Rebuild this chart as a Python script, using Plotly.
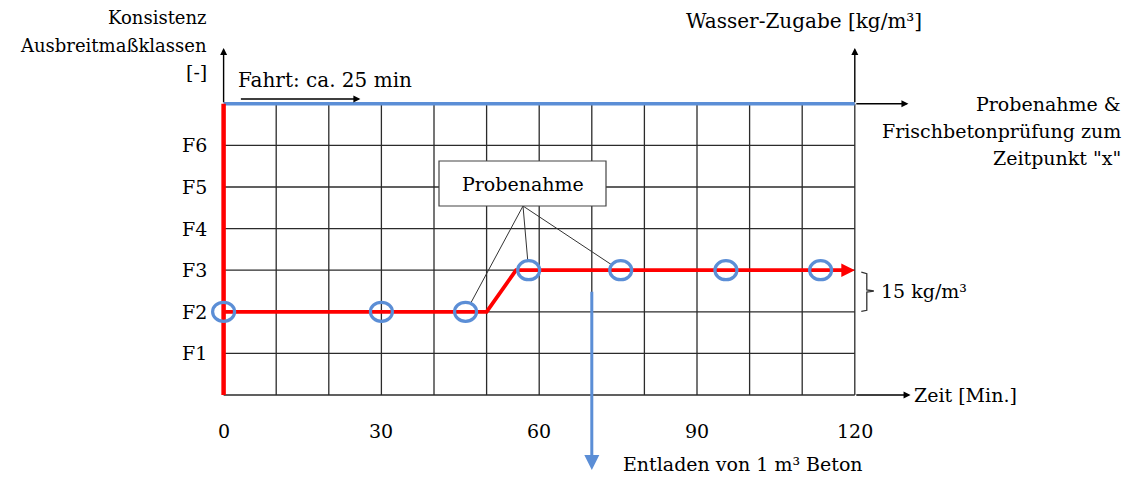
import plotly.graph_objects as go

# ---------------- data ----------------
classes = ["F1", "F2", "F3", "F4", "F5", "F6"]
class_levels = [1, 2, 3, 4, 5, 6]
x_ticks = [0, 30, 60, 90, 120]
grid_minutes = [10, 20, 30, 40, 50, 60, 70, 80, 90, 100, 110, 120]

# consistency course (minutes, class level)
curve_t = [0, 50, 55.6, 120]
curve_f = [2, 2, 3, 3]

# sampling points
sample_t = [0, 30, 46, 58, 75.5, 95.5, 113.5]
sample_f = [2, 2, 2, 3, 3, 3, 3]
labelled_samples = [2, 3, 4]

unload_t = 70          # unloading of 1 m3
unload_f = 2.52
ride_start, ride_end = 3, 26   # "Fahrt: ca. 25 min"
top_level = 7

# ---------------- geometry (pixel mapping) ----------------
W, H = 1131, 477
X0, PXM = 223.6, 5.26     # pixel of t=0, px per minute
Y0, PYU = 395.0, 41.6     # pixel of level 0, px per class
xr = [-X0 / PXM, (W - X0) / PXM]
yr = [-(H - Y0) / PYU, Y0 / PYU]

def dx(px):
    return px / PXM

def dy(px):
    return px / PYU

BLUE = "#5B8ED6"
RED = "#FF0000"
GRID = "#2b2b2b"
FONT = "DejaVu Serif"
FS = 19

fig = go.Figure()

# grid
gx, gy = [], []
for m in grid_minutes:
    gx += [m, m, None]
    gy += [0, top_level, None]
for lv in class_levels:
    gx += [0, 120, None]
    gy += [lv, lv, None]
fig.add_trace(go.Scatter(x=gx, y=gy, mode="lines", line=dict(color=GRID, width=1.3),
                         hoverinfo="skip", showlegend=False))

# axes with arrows
def arrow(x0, y0, x1, y1, color="black", width=1.4, head=2, size=1.0):
    fig.add_annotation(x=x1, y=y1, ax=x0, ay=y0, xref="x", yref="y", axref="x", ayref="y",
                       text="", showarrow=True, arrowhead=head, arrowsize=size,
                       arrowwidth=width, arrowcolor=color, standoff=0, startstandoff=0)

ymax_arrow = dy(Y0 - 48)
arrow(0, top_level, 0, ymax_arrow)
arrow(120, top_level, 120, ymax_arrow)
arrow(120, top_level, 130.2, top_level)
fig.add_trace(go.Scatter(x=[0, 120], y=[0, 0], mode="lines", line=dict(color=GRID, width=1.4),
                         hoverinfo="skip", showlegend=False))
arrow(120, 0, 130.6, 0)

# top blue line
fig.add_trace(go.Scatter(x=[0, 120], y=[top_level, top_level], mode="lines",
                         line=dict(color=BLUE, width=3.5), hoverinfo="skip", showlegend=False))

# red vertical at t=0
fig.add_trace(go.Scatter(x=[0, 0], y=[0, top_level], mode="lines",
                         line=dict(color=RED, width=4.5), hoverinfo="skip", showlegend=False))

# red consistency curve
fig.add_trace(go.Scatter(x=curve_t[:-1] + [curve_t[-1] - dx(8)], y=curve_f, mode="lines",
                         line=dict(color=RED, width=3.8), hoverinfo="skip", showlegend=False))
arrow(curve_t[-1] - dx(10), curve_f[-1], curve_t[-1], curve_f[-1], color=RED, width=3, head=2, size=0.9)

# leader lines from box to samples
box_x0, box_x1 = dx(439 - X0), dx(606 - X0)
box_y0, box_y1 = dy(Y0 - 206), dy(Y0 - 161)
anchor_t, anchor_f = dx(523 - X0), box_y0
lx, ly = [], []
for i in labelled_samples:
    t, f = sample_t[i], sample_f[i]
    vx, vy = (anchor_t - t) * PXM, (anchor_f - f) * PYU
    norm = (vx ** 2 + vy ** 2) ** 0.5
    ex = t + dx(11 * vx / norm)
    ey = f + dy(10 * vy / norm)
    lx += [anchor_t, ex, None]
    ly += [anchor_f, ey, None]
fig.add_trace(go.Scatter(x=lx, y=ly, mode="lines", line=dict(color="#333333", width=1),
                         hoverinfo="skip", showlegend=False))

# sample ellipses
for t, f in zip(sample_t, sample_f):
    fig.add_shape(type="circle", xref="x", yref="y",
                  x0=t - dx(11), x1=t + dx(11), y0=f - dy(9.5), y1=f + dy(9.5),
                  line=dict(color=BLUE, width=3.2), layer="above")

# Probenahme box
fig.add_shape(type="rect", xref="x", yref="y", x0=box_x0, x1=box_x1, y0=box_y0, y1=box_y1,
              line=dict(color="#444444", width=1.2), fillcolor="white", layer="above")
fig.add_annotation(x=(box_x0 + box_x1) / 2, y=(box_y0 + box_y1) / 2, xref="x", yref="y",
                   text="Probenahme", showarrow=False, font=dict(family=FONT, size=FS, color="black"))

# unloading arrow
arrow(unload_t, unload_f, unload_t, dy(Y0 - 470), color=BLUE, width=3, head=2, size=1.0)

# ride arrow
ride_y = dy(Y0 - 99)
arrow(ride_start, ride_y, ride_end, ride_y, color="black", width=1.4, head=2, size=1.0)

# bracket 15 kg/m3
bx = [120 + dx(6.5), 120 + dx(12), 120 + dx(12), 120 + dx(19), 120 + dx(12), 120 + dx(12), 120 + dx(6.5)]
by = [3 - dy(2), 3 - dy(3.5), 2.5 + dy(1), 2.5, 2.5 - dy(1), 2 + dy(1.5), 2 + dy(0.5)]
fig.add_trace(go.Scatter(x=bx, y=by, mode="lines", line=dict(color="#333333", width=1.3),
                         hoverinfo="skip", showlegend=False))

# texts
def txt(x, y, s, xanchor="left", yanchor="middle", size=FS):
    fig.add_annotation(x=x, y=y, xref="x", yref="y", text=s, showarrow=False,
                       xanchor=xanchor, yanchor=yanchor,
                       font=dict(family=FONT, size=size, color="black"))

for c, lv in zip(classes, class_levels):
    txt(dx(209 - X0), lv, c, xanchor="right")
for t in x_ticks:
    txt(t, dy(Y0 - 431), str(t), xanchor="center")

txt(dx(209 - X0), dy(Y0 - 17), "Konsistenz", xanchor="right", size=18)
txt(dx(209 - X0), dy(Y0 - 45), "Ausbreitmaßklassen", xanchor="right", size=18)
txt(dx(209 - X0), dy(Y0 - 72), "[-]", xanchor="right")
txt(dx(236 - X0), dy(Y0 - 80), "Fahrt: ca. 25 min", size=20)
txt(dx(804 - X0), dy(Y0 - 21), "Wasser-Zugabe [kg/m³]", xanchor="center", size=20)
txt(dx(1123 - X0), dy(Y0 - 104), "Probenahme &", xanchor="right")
txt(dx(1123 - X0), dy(Y0 - 131), "Frischbetonprüfung zum", xanchor="right")
txt(dx(1123 - X0), dy(Y0 - 158), "Zeitpunkt \"x\"", xanchor="right")
txt(dx(912 - X0), 0, "Zeit [Min.]")
txt(dx(879 - X0), 2.5, "15 kg/m³")
txt(dx(621 - X0), dy(Y0 - 464), "Entladen von 1 m³ Beton")

fig.update_layout(width=W, height=H, autosize=False,
                  margin=dict(l=0, r=0, t=0, b=0),
                  paper_bgcolor="white", plot_bgcolor="white",
                  xaxis=dict(range=xr, visible=False, fixedrange=True),
                  yaxis=dict(range=yr, visible=False, fixedrange=True),
                  showlegend=False)

fig.write_html("out.html", config={"displayModeBar": False},
               post_script="document.body.style.margin='0';document.body.style.overflow='hidden';")
